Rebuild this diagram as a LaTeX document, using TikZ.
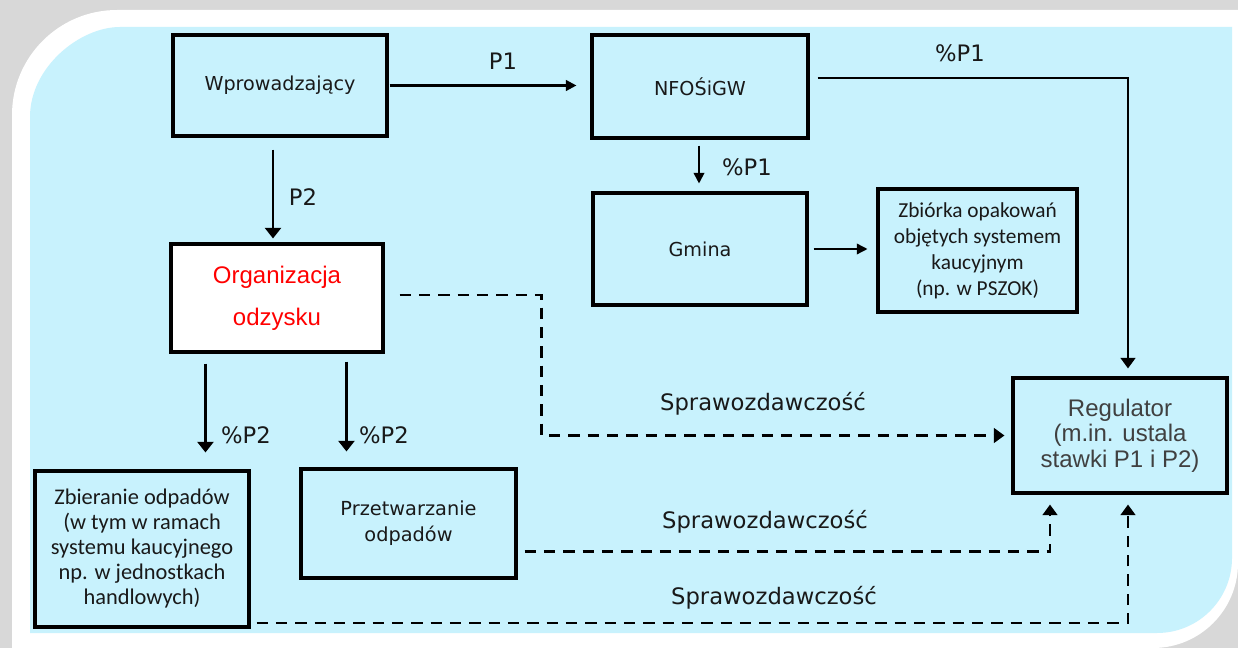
\documentclass[tikz,border=0pt]{standalone}
\usepackage{fontspec}
\setmainfont{DejaVu Sans}
\newfontfamily\calfont{Carlito}
\newfontfamily\arifont{Liberation Sans}
\usetikzlibrary{arrows.meta,calc}
\definecolor{bgblue}{RGB}{200,242,253}
\definecolor{txt}{RGB}{25,25,25}
\definecolor{reggray}{RGB}{64,64,64}
\definecolor{shadowgray}{RGB}{216,216,216}
\begin{document}
\begin{tikzpicture}[x=0.75pt,y=-0.75pt,
  box/.style={draw=black, line width=2.3pt, inner sep=0pt, align=center, text=txt,
    font=\fontsize{14.4}{19.5}\selectfont},
  lbl/.style={text=txt, inner sep=0pt, font=\fontsize{17}{20}\selectfont},
  arrbig/.style={line width=2.2pt, -{Triangle[width=12pt,length=8pt]}},
  arrmid/.style={line width=2pt, -{Triangle[width=11pt,length=8pt]}},
  arrthin/.style={line width=1.8pt, -{Triangle[width=8pt,length=8pt]}},
  arrsm/.style={line width=1.4pt, -{Triangle[width=8pt,length=8pt]}},
  arrtiny/.style={line width=1.1pt, -{Triangle[width=8pt,length=8pt]}},
  dsh/.style={line width=2.2pt, dash pattern=on 8.5pt off 6pt, -{Triangle[width=11pt,length=8pt]}}
]
\useasboundingbox (0,0) rectangle (1238,648);
% background
\fill[shadowgray] (0,0) rectangle (1238,648);
\fill[white] (12,648) -- (12,115) .. controls (12,57) and (59,10) .. (117,10) -- (1238,10)
  -- (1238,563) .. controls (1238,610) and (1200,648) .. (1153,648) -- cycle;
\fill[bgblue] (30,633) -- (30,117) .. controls (30,67.3) and (79.7,27) .. (120,27) -- (1232,27)
  -- (1232,558) .. controls (1232,599.4) and (1198.4,633) .. (1157,633) -- cycle;

% boxes
\node[box, minimum width=160.5pt, minimum height=75.75pt] (wp) at (280,85.5) {Wprowadzający};
\node[box, minimum width=162pt, minimum height=77.25pt] (nf) at (700,86.5) {NFOŚiGW};
\node[box, minimum width=160.5pt, minimum height=84pt] (gm) at (700,249) {Gmina};
\node[box, minimum width=149.25pt, minimum height=92.25pt,
  font=\calfont\fontsize{16}{19.5}\selectfont] (zb) at (977.5,250.5)
  {Zbiórka opakowań\\objętych systemem\\kaucyjnym\\(np. w PSZOK)};
\node[box, minimum width=160.5pt, minimum height=86.25pt, text=reggray,
  font=\arifont\fontsize{18}{19}\selectfont] (reg) at (1120,435.5)
  {Regulator\\(m.in. ustala\\stawki P1 i P2)};
\node[box, fill=white, minimum width=159pt, minimum height=81pt, text=red,
  font=\arifont\fontsize{18}{31.5}\selectfont] (org) at (277,298)
  {Organizacja\\odzysku};
\node[box, minimum width=160.5pt, minimum height=117pt,
  font=\calfont\fontsize{16.8}{18.75}\selectfont] (zbier) at (142,549)
  {Zbieranie odpadów\\(w tym w ramach\\systemu kaucyjnego\\np. w jednostkach\\handlowych)};
\node[box, minimum width=161.25pt, minimum height=81.75pt,
  font=\fontsize{14.5}{19.5}\selectfont] (prz) at (408.5,523.5)
  {Przetwarzanie\\odpadów};

% labels
\node[lbl] (lp1) at (503,61) {P1};
\node[lbl] (lp1a) at (960,53) {\%P1};
\node[lbl] (lp1b) at (747,167) {\%P1};
\node[lbl] (lp2) at (303,197) {P2};
\node[lbl] (lp2a) at (246,435) {\%P2};
\node[lbl] (lp2b) at (384,435) {\%P2};
\node[lbl] (ls1) at (763,404) {Sprawozdawczość};
\node[lbl] (ls2) at (765,522) {Sprawozdawczość};
\node[lbl] (ls3) at (774,598) {Sprawozdawczość};

% coordinates
\coordinate (c3) at ($(nf.south)+(-1,0)$);
\coordinate (c5) at ($(wp.south)+(-7,0)$);
\coordinate (c6) at ($(org.south west)+(36,0)$);
\coordinate (c7) at ($(org.south west)+(177,0)$);

% connectors
\draw[arrthin, shorten <=0.75pt, shorten >=10.5pt] (wp.east) -- (wp.east -| nf.west);
\draw[arrmid, shorten >=6pt] ($(nf.east)+(8,-8.5)$) -| ($(reg.north)+(8,0)$);
\draw[arrsm, shorten <=4.5pt, shorten >=6pt] (c3) -- (c3 |- gm.north);
\draw[arrtiny, shorten <=3.75pt, shorten >=6.75pt] (gm.east) -- (gm.east -| zb.west);
\draw[arrbig, shorten <=9pt, shorten >=3pt] (c5) -- (c5 |- org.north);
\draw[arrbig, shorten <=7.5pt, shorten >=12.75pt] (c6) -- (c6 |- zbier.north);
\draw[arrbig, shorten <=6pt, shorten >=12pt] (c7) -- (c7 |- prz.north);
\draw[dsh, shorten >=5.25pt] ($(org.east)+(15,-3)$) -| ($(reg.west)+(-470,0)$) -- (reg.west);
\draw[dsh, shorten >=7.5pt] ($(prz.east)+(7,28)$) -| ($(reg.south)+(-70,0)$);
\draw[dsh, shorten >=7.5pt] ($(zbier.east)+(6,74)$) -| ($(reg.south)+(8,0)$);
\end{tikzpicture}
\end{document}
